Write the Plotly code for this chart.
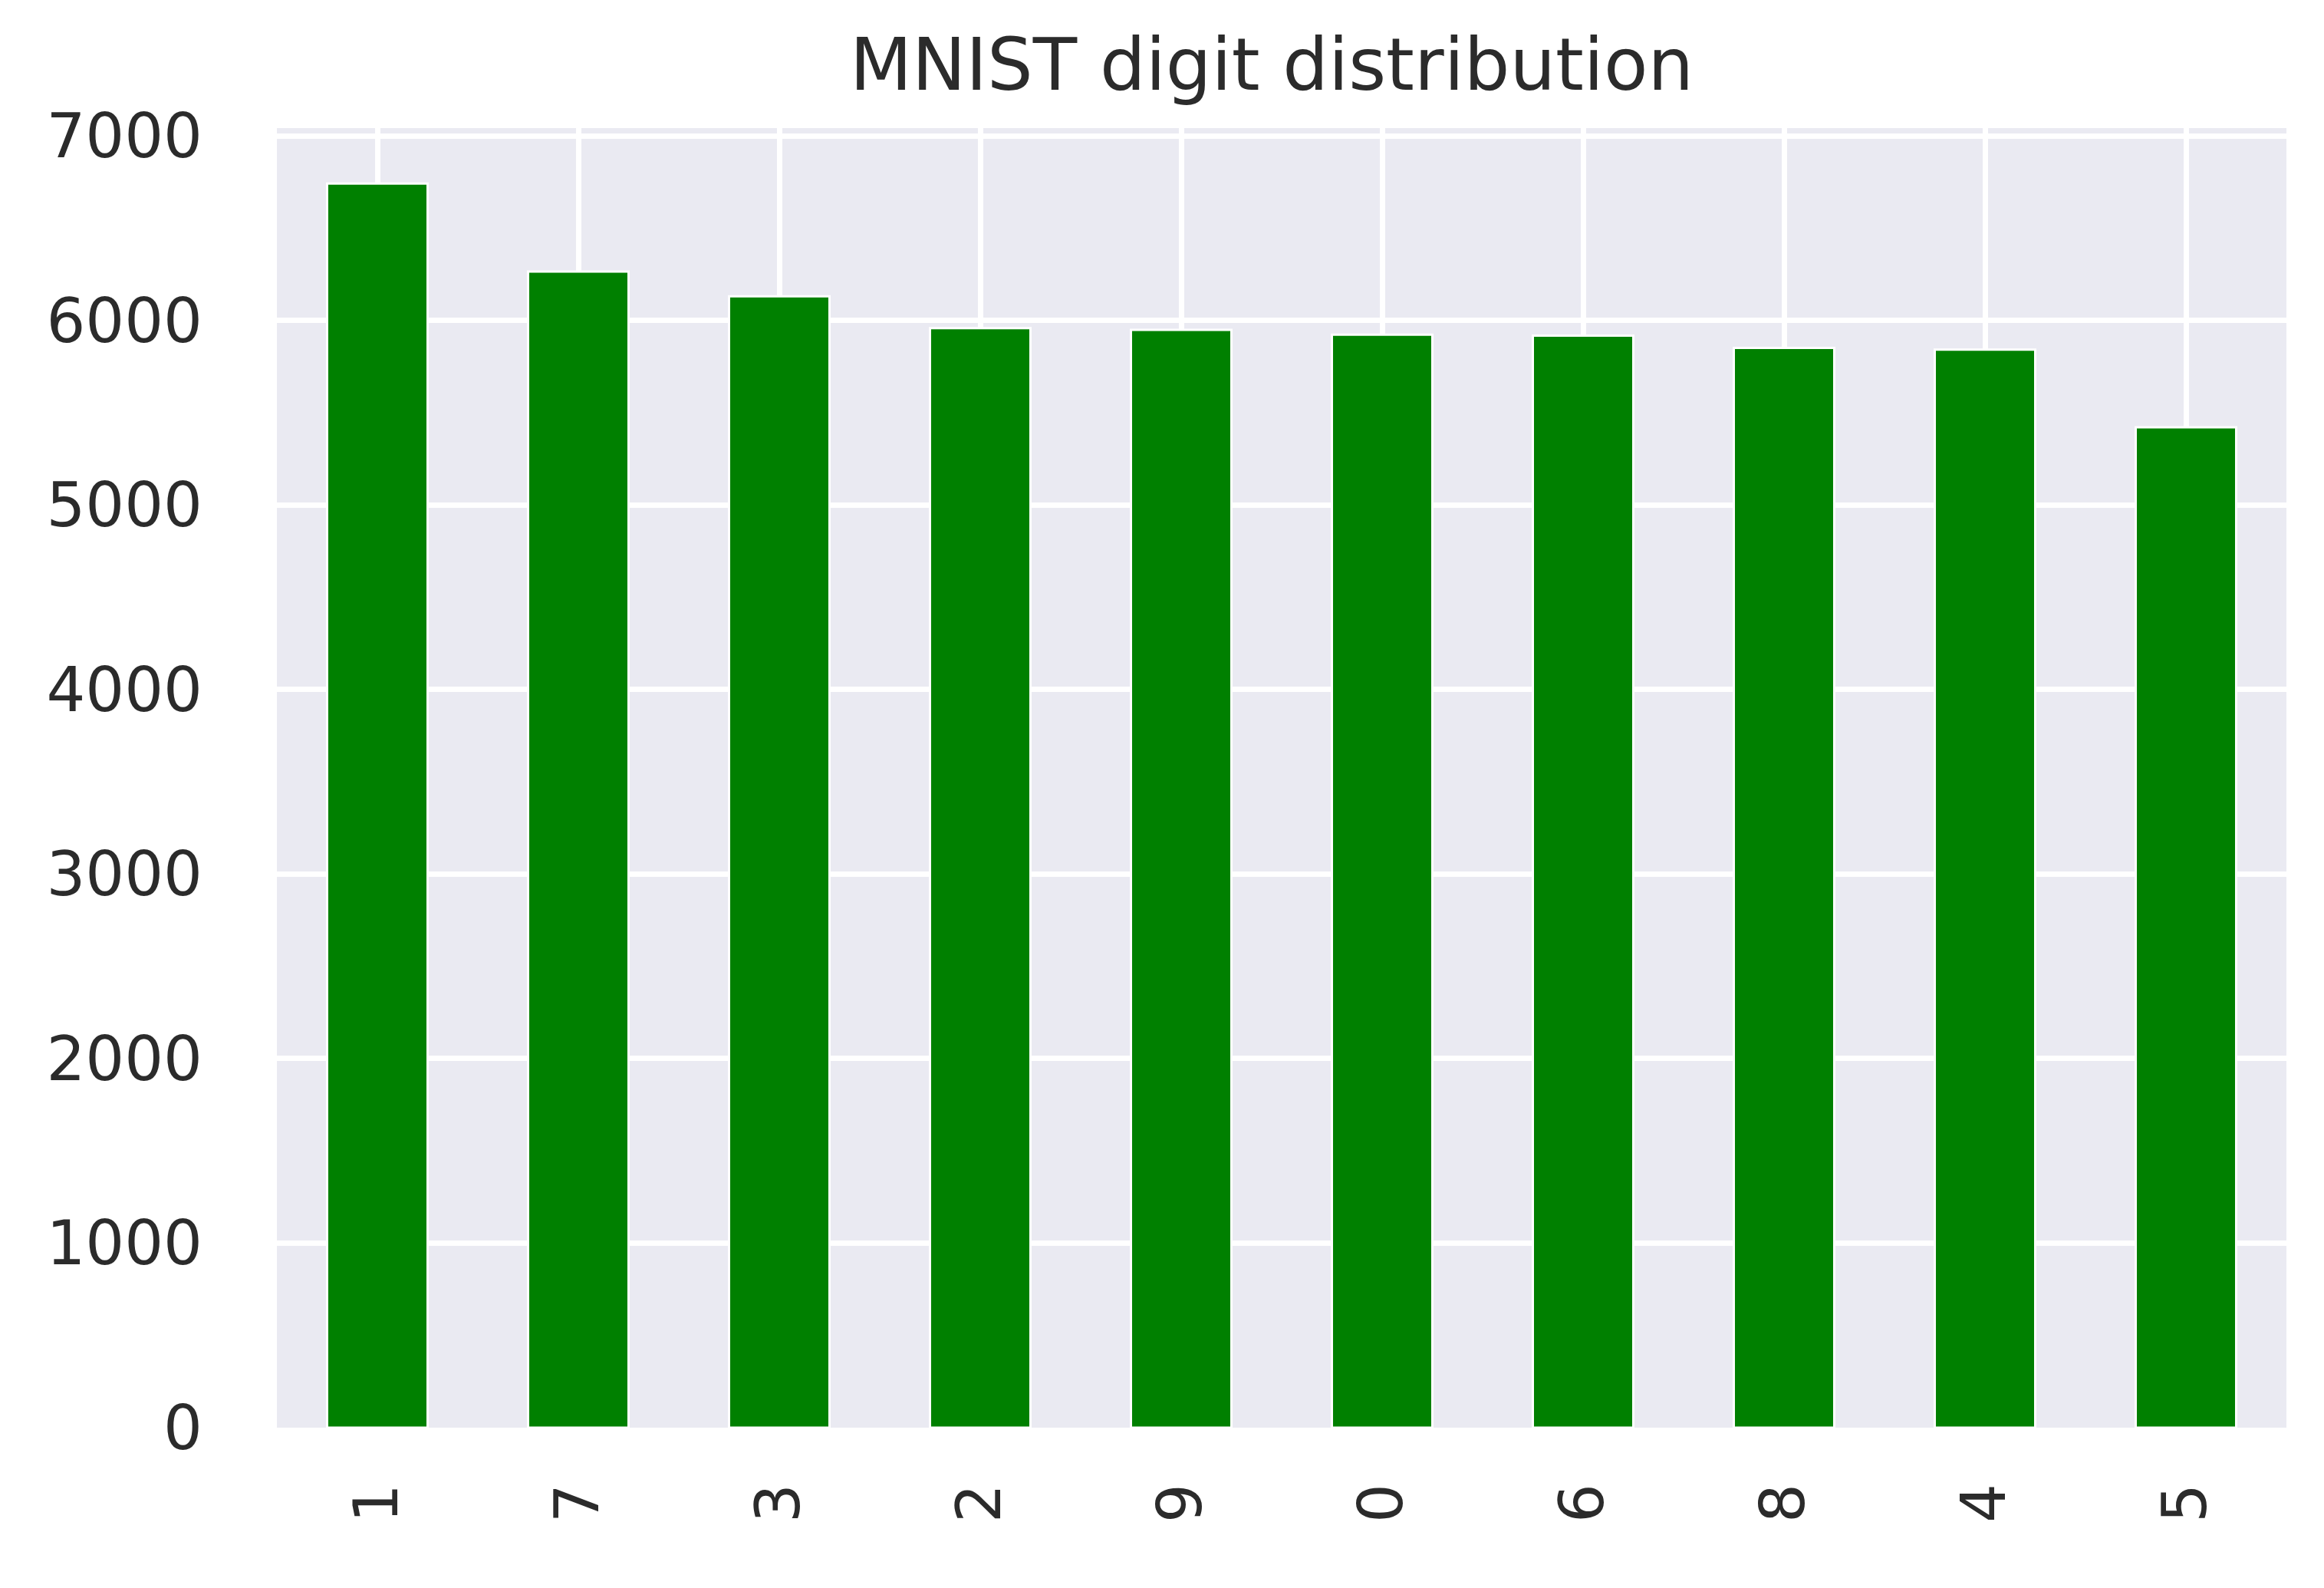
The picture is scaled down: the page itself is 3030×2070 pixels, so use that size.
import plotly.graph_objects as go

digits = ["1", "7", "3", "2", "9", "0", "6", "8", "4", "5"]
counts = [6742, 6265, 6131, 5958, 5949, 5923, 5918, 5851, 5842, 5421]
y_ticks = [0, 1000, 2000, 3000, 4000, 5000, 6000, 7000]

W, H = 3030, 2070
L, R, T, B = 353, 57, 159, 217
FONT = "DejaVu Sans"
TXT = "#2b2b2b"

fig = go.Figure(go.Bar(
    x=digits, y=counts, width=0.5,
    marker=dict(color="green", line=dict(color="white", width=3)),
))

fig.update_layout(
    width=W, height=H,
    margin=dict(l=L, r=R, t=T, b=B, autoexpand=False),
    paper_bgcolor="white", plot_bgcolor="#EAEAF2",
    font=dict(family=FONT, color=TXT, size=80),
    title=dict(text="MNIST digit distribution", font=dict(size=94, color=TXT, family=FONT),
               x=1650 / W, xanchor="center", xref="container",
               y=1 - 76 / H, yanchor="middle", yref="container"),
    showlegend=False,
)
fig.update_xaxes(
    type="category", range=[-0.5, 9.5], tickangle=-90,
    showgrid=True, gridcolor="white", gridwidth=7,
    showline=False, zeroline=False,
    ticks="outside", ticklen=40, tickcolor="rgba(0,0,0,0)",
    tickfont=dict(size=80, color=TXT, family=FONT),
)
fig.update_yaxes(
    range=[0, 7042], tickvals=y_ticks, ticktext=[str(v) for v in y_ticks],
    showgrid=True, gridcolor="white", gridwidth=7,
    showline=False, zeroline=False,
    ticks="outside", ticklen=80, tickcolor="rgba(0,0,0,0)",
    tickfont=dict(size=80, color=TXT, family=FONT),
)

fig.write_html("out.html")
